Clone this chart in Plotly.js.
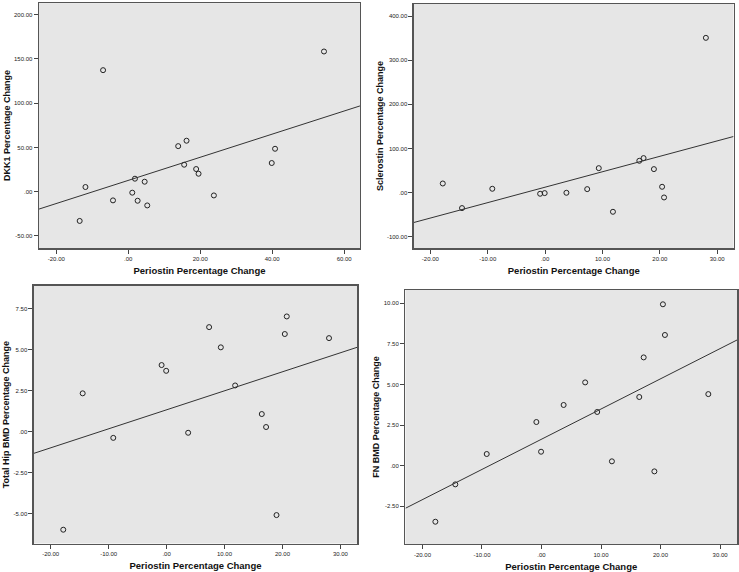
<!DOCTYPE html>
<html>
<head>
<meta charset="utf-8">
<script src="https://cdn.plot.ly/plotly-3.0.1.min.js"></script>
<style>html,body{margin:0;padding:0;background:#fff;}#chart{width:739px;height:572px;}</style>
</head>
<body>
<div id="chart"></div>
<script>
// ---- Panel 1: DKK1 vs Periostin ----
const periostinDKK = [54.4, -7.0, -11.9, -13.5, -4.24, 1.86, 1.12, 2.61, 4.56, 5.28, 13.88, 16.2, 15.54, 18.87, 19.54, 23.8, 39.88, 40.8];
const dkk1Change   = [158.4, 137.3, 5.3, -33.0, -9.8, 14.7, -1.1, -10.2, 11.3, -15.5, 51.5, 57.6, 30.5, 25.6, 20.3, -4.2, 32.4, 48.5];
const dkk1FitX = [-24.8, 64.4];
const dkk1FitY = [-19.6, 96.9];

// ---- Panels 2-4: shared periostin change ----
const periostinChange = [-17.83, -14.48, -9.2, -0.86, -0.07, 3.72, 7.34, 9.36, 11.83, 16.43, 17.17, 18.97, 20.4, 20.74, 28.03];
const sclerostinChange = [20.4, -35.4, 8.4, -2.9, -1.4, -0.7, 7.6, 55.2, -43.8, 71.9, 78.0, 53.0, 12.9, -11.3, 350.8];
const totalHipChange   = [-5.96, 2.34, -0.37, 4.06, 3.71, -0.06, 6.37, 5.14, 2.82, 1.08, 0.29, -5.07, 5.95, 7.02, 5.70];
const fnBmdChange      = [-3.45, -1.15, 0.72, 2.69, 0.86, 3.74, 5.13, 3.31, 0.27, 4.23, 6.67, -0.35, 9.94, 8.05, 4.41];
const sclFitX = [-22.85, 32.85];
const sclFitY = [-68, 127];
const hipFitX = [-22.88, 32.86];
const hipFitY = [-1.31, 5.14];
const fnFitX  = [-22.85, 32.85];
const fnFitY  = [-2.62, 7.74];

// ---- Tick values / labels ----
const xTicks1 = [-20, 0, 20, 40, 60];
const xText1  = ['-20.00', '.00', '20.00', '40.00', '60.00'];
const yTicks1 = [-50, 0, 50, 100, 150, 200];
const yText1  = ['-50.00', '.00', '50.00', '100.00', '150.00', '200.00'];
const xTicks  = [-20, -10, 0, 10, 20, 30];
const xText   = ['-20.00', '-10.00', '.00', '10.00', '20.00', '30.00'];
const yTicks2 = [-100, 0, 100, 200, 300, 400];
const yText2  = ['-100.00', '.00', '100.00', '200.00', '300.00', '400.00'];
const yTicks3 = [-5, -2.5, 0, 2.5, 5, 7.5];
const yText3  = ['-5.00', '-2.50', '.00', '2.50', '5.00', '7.50'];
const yTicks4 = [-2.5, 0, 2.5, 5, 7.5, 10];
const yText4  = ['-2.50', '.00', '2.50', '5.00', '7.50', '10.00'];

const xTitle = 'Periostin Percentage Change';
const yTitles = ['DKK1 Percentage Change', 'Sclerostin Percentage Change', 'Total Hip BMD Percentage Change', 'FN BMD Percentage Change'];

const FONT = '"Liberation Sans", Arial, sans-serif';
const marker = {symbol: 'circle-open', size: 5, color: '#222', line: {width: 1, color: '#222'}};
const fitLine = {color: '#333', width: 1};

const data = [
  {x: periostinDKK, y: dkk1Change, mode: 'markers', type: 'scatter', marker: marker, xaxis: 'x', yaxis: 'y'},
  {x: dkk1FitX, y: dkk1FitY, mode: 'lines', type: 'scatter', line: fitLine, xaxis: 'x', yaxis: 'y'},
  {x: periostinChange, y: sclerostinChange, mode: 'markers', type: 'scatter', marker: marker, xaxis: 'x2', yaxis: 'y2'},
  {x: sclFitX, y: sclFitY, mode: 'lines', type: 'scatter', line: fitLine, xaxis: 'x2', yaxis: 'y2'},
  {x: periostinChange, y: totalHipChange, mode: 'markers', type: 'scatter', marker: marker, xaxis: 'x3', yaxis: 'y3'},
  {x: hipFitX, y: hipFitY, mode: 'lines', type: 'scatter', line: fitLine, xaxis: 'x3', yaxis: 'y3'},
  {x: periostinChange, y: fnBmdChange, mode: 'markers', type: 'scatter', marker: marker, xaxis: 'x4', yaxis: 'y4'},
  {x: fnFitX, y: fnFitY, mode: 'lines', type: 'scatter', line: fitLine, xaxis: 'x4', yaxis: 'y4'}
];

function xa(domain, anchor, range, vals, text) {
  return {
    domain: domain, anchor: anchor, range: range, tickvals: vals, ticktext: text,
    ticks: 'outside', ticklen: 4, tickcolor: '#444', tickwidth: 1,
    showline: true, mirror: true, linecolor: '#555', linewidth: 1.5,
    showgrid: false, zeroline: false, automargin: false,
    tickfont: {family: FONT, size: 6, color: '#222'},
    title: {text: '<b>' + xTitle + '</b>', font: {family: FONT, size: 9.5, color: '#111'}, standoff: 6}
  };
}
function ya(domain, anchor, range, vals, text, title) {
  return {
    domain: domain, anchor: anchor, range: range, tickvals: vals, ticktext: text,
    ticks: 'outside', ticklen: 4, tickcolor: '#444', tickwidth: 1,
    showline: true, mirror: true, linecolor: '#555', linewidth: 1.5,
    showgrid: false, zeroline: false, automargin: false,
    tickfont: {family: FONT, size: 6, color: '#222'},
    title: {text: '<b>' + title + '</b>', font: {family: FONT, size: 9, color: '#111'}, standoff: 2}
  };
}

const layout = {
  width: 739, height: 572,
  margin: {l: 0, r: 0, t: 0, b: 0},
  paper_bgcolor: '#ffffff', plot_bgcolor: '#e6e6e6',
  showlegend: false,
  font: {family: FONT},
  xaxis:  xa([0.0528, 0.4871], 'y',  [-24.8, 64.4], xTicks1, xText1),
  yaxis:  ya([0.5664, 0.9945], 'x',  [-63.6, 213], yTicks1, yText1, yTitles[0]),
  xaxis2: xa([0.5602, 0.9926], 'y2', [-22.85, 32.85], xTicks, xText),
  yaxis2: ya([0.5664, 0.9930], 'x2', [-126, 427.6], yTicks2, yText2, yTitles[1]),
  xaxis3: xa([0.0460, 0.4831], 'y3', [-22.88, 32.86], xTicks, xText),
  yaxis3: ya([0.0498, 0.5005], 'x3', [-6.8, 8.89], yTicks3, yText3, yTitles[2]),
  xaxis4: xa([0.5487, 0.9973], 'y4', [-22.85, 32.85], xTicks, xText),
  yaxis4: ya([0.0490, 0.4930], 'x4', [-4.82, 10.82], yTicks4, yText4, yTitles[3])
};

Plotly.newPlot('chart', data, layout, {displayModeBar: false, staticPlot: true});
</script>
</body>
</html>
